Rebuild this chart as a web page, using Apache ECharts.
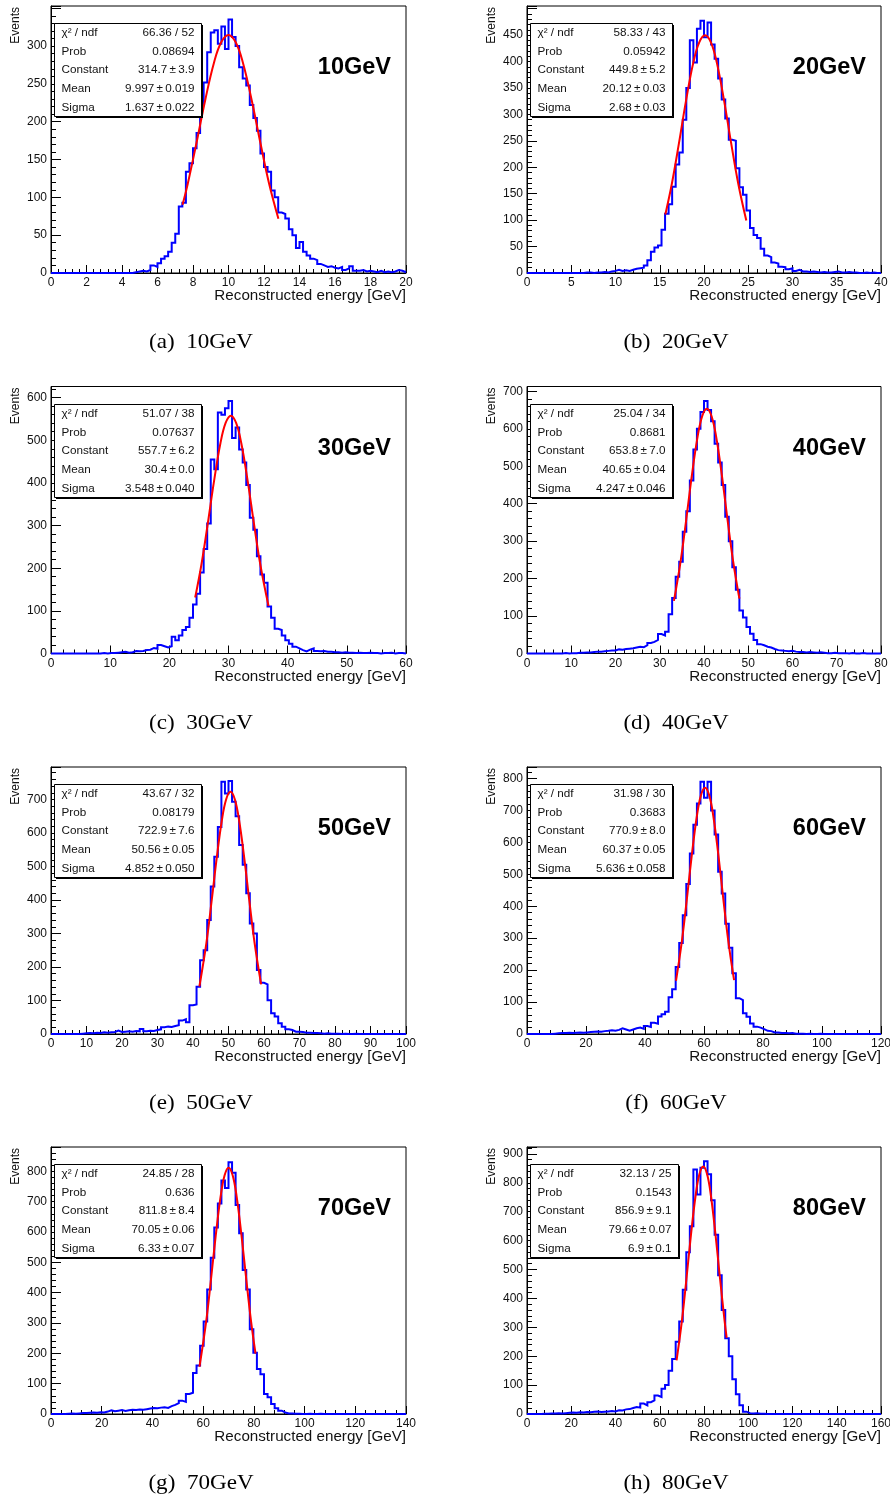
<!DOCTYPE html>
<html><head><meta charset="utf-8">
<script src="https://cdn.jsdelivr.net/npm/echarts@6/dist/echarts.min.js"></script>
<style>html,body{margin:0;padding:0;background:#fff;}#c{width:890px;height:1502px;}</style>
</head><body><div id="c"></div>
<script>
// ---------------- data ----------------
const panelLabels = ['10GeV','20GeV','30GeV','40GeV','50GeV','60GeV','70GeV','80GeV'];
const captions = ['(a)  10GeV','(b)  20GeV','(c)  30GeV','(d)  40GeV','(e)  50GeV','(f)  60GeV','(g)  70GeV','(h)  80GeV'];
const xMax = [20,40,60,80,100,120,140,160];
const xStep = [2,5,10,10,10,20,20,20];
const yMax = [353,505,626,713,797,836,880,924];
const yStep = [50,50,100,100,100,100,100,100];
const yTickLabels = [
  [0,50,100,150,200,250,300],
  [0,50,100,150,200,250,300,350,400,450],
  [0,100,200,300,400,500,600],
  [0,100,200,300,400,500,600,700],
  [0,100,200,300,400,500,600,700],
  [0,100,200,300,400,500,600,700,800],
  [0,100,200,300,400,500,600,700,800],
  [0,100,200,300,400,500,600,700,800,900]
];
const xTitle = 'Reconstructed energy [GeV]';
const yTitle = 'Events';

// histogram bin contents (100 equal bins from 0 to xMax)
const counts10 = [0,0,0,0,0,0,0,0,0,0, 0,0,0,0,0,0,0,0,0,0, 0,0,0,1,2,3,2,4,10,8,
  13,19,22,28,40,52,88,93,134,145, 165,185,222,252,292,318,321,303,326,296,
  335,312,300,272,257,248,222,205,188,158, 140,134,109,100,80,78,72,58,50,33,
  41,28,23,19,17,12,10,8,9,7, 6,8,4,6,9,3,3,4,2,3, 2,1,3,1,2,1,2,4,3,1];
const counts20 = [0,0,0,0,0,0,0,0,0,0, 0,0,0,0,0,0,1,1,0,1, 1,2,1,3,4,6,4,5,4,6,
  8,9,10,14,24,40,48,52,82,112, 130,163,205,228,290,350,440,398,462,477,
  446,474,432,405,368,328,292,252,250,198, 162,148,118,85,72,66,46,33,30,20,
  18,12,11,7,9,4,6,3,3,2, 3,2,1,2,1,1,2,3,1,1, 2,1,1,0,0,1,0,1,0,0];
const counts30 = [0,0,0,0,0,0,0,0,0,0, 0,0,0,0,1,0,1,1,2,3, 4,2,3,6,5,6,8,9,13,11,
  20,17,14,17,39,31,42,55,62,84, 115,140,190,245,305,455,432,565,560,575,
  592,505,530,478,448,395,318,290,228,185, 166,110,84,58,55,42,31,23,16,12,
  8,5,9,12,6,5,6,4,4,3, 3,2,3,2,2,1,2,1,1,2, 1,1,0,1,1,2,0,1,1,0];
const counts40 = [0,0,0,0,0,0,0,0,0,0, 1,0,1,1,2,2,3,3,4,5, 5,6,7,8,8,11,10,12,13,14,
  16,18,17,22,28,31,36,52,48,58, 105,148,205,245,325,380,462,545,600,645,
  674,650,620,560,510,450,365,300,230,170, 115,96,71,53,36,25,22,18,16,12,
  9,8,7,6,7,5,4,4,3,4, 3,2,3,2,1,1,2,1,1,1, 0,1,0,0,1,0,0,0,0,0];
const counts50 = [0,0,0,0,0,0,0,0,1,2, 3,2,4,3,5,4,5,6,10,6, 7,8,7,9,8,15,8,10,9,12,
  14,20,22,21,24,26,40,44,35,86, 88,141,220,250,340,440,529,618,753,718,
  755,693,650,564,505,420,330,300,191,153, 148,101,62,52,32,22,14,12,7,7,
  6,4,4,3,3,2,1,2,1,1, 1,0,1,0,0,1,0,0,0,0, 0,0,0,0,0,0,0,0,0,0];
const counts60 = [0,0,0,0,0,0,0,1,2,3, 3,4,3,4,5,4,5,6,7,8, 7,9,10,12,10,13,18,14,10,14,
  18,20,16,25,22,35,32,55,62,70, 115,140,210,285,372,470,565,655,722,790,
  740,790,700,625,508,440,345,270,190,112, 106,65,54,33,23,20,15,10,9,5,
  5,3,3,2,3,1,1,1,0,1, 0,0,1,0,0,0,0,0,0,0, 0,0,0,0,0,0,0,0,0,0];
const counts70 = [0,0,0,0,1,2,1,2,3,3, 4,5,4,6,5,8,12,9,11,13, 10,12,14,13,15,14,16,18,20,19,
  21,22,20,26,30,36,44,40,66,70, 135,160,225,305,410,515,615,694,770,745,
  830,795,689,596,475,410,279,202,148,131, 66,55,33,19,11,5,2,2,1,1,
  0,0,1,0,0,1,0,0,0,0, 0,0,0,0,0,0,0,0,0,0, 0,0,0,0,0,0,0,0,0,0];
const counts80 = [0,0,0,0,1,1,2,2,3,2, 3,4,5,4,6,5,7,6,8,9, 7,8,9,10,9,13,12,16,17,21,
  24,22,36,30,41,47,64,59,87,100, 150,190,250,320,430,560,650,846,760,852,
  875,830,740,620,480,360,262,200,120,68, 30,8,3,2,3,1,1,0,0,0,
  0,0,0,0,0,0,0,0,0,0, 0,0,0,0,0,0,0,0,0,0, 0,0,0,0,0,0,0,0,0,0];
const allCounts = [counts10,counts20,counts30,counts40,counts50,counts60,counts70,counts80];

// red fit curves [x, y]
const fit10 = [[7.411,90.3],[7.705,118.1],[8.196,171.9],[8.687,228.5],[9.178,277.7],[9.588,305.0],[9.997,314.7],[10.406,305.0],[10.816,277.7],[11.307,228.5],[11.798,171.9],[12.289,118.1],[12.813,71.7]];
const fit20 = [[15.631,110.6],[16.368,168.8],[17.172,245.6],[17.976,326.6],[18.78,396.9],[19.45,435.9],[20.12,449.8],[20.79,435.9],[21.46,396.9],[22.264,326.6],[23.068,245.6],[23.872,168.8],[24.781,99.2]];
const fit30 = [[24.368,131.4],[25.433,209.3],[26.497,304.6],[27.562,404.9],[28.626,492.2],[29.513,540.5],[30.4,557.7],[31.287,540.5],[32.174,492.2],[33.238,404.9],[34.303,304.6],[35.367,209.3],[36.769,111.4]];
const fit40 = [[33.201,140.4],[34.704,245.4],[35.978,357.0],[37.252,474.7],[38.527,577.0],[39.588,633.7],[40.65,653.8],[41.712,633.7],[42.774,577.0],[44.048,474.7],[45.322,357.0],[46.596,245.4],[47.997,146.4]];
const fit50 = [[41.802,141.8],[43.767,271.3],[45.223,394.8],[46.678,524.9],[48.134,638.0],[49.347,700.6],[50.56,722.9],[51.773,700.6],[52.986,638.0],[54.442,524.9],[55.897,394.8],[57.353,271.3],[59.197,148.3]];
const fit60 = [[50.507,166.7],[52.48,289.3],[54.17,421.0],[55.861,559.8],[57.552,680.3],[58.961,747.2],[60.37,770.9],[61.779,747.2],[63.188,680.3],[64.879,559.8],[66.57,421.0],[68.26,289.3],[70.199,168.5]];
const fit70 = [[58.548,155.8],[61.188,304.7],[63.087,443.3],[64.986,589.4],[66.885,716.4],[68.468,786.8],[70.05,811.8],[71.633,786.8],[73.215,716.4],[75.114,589.4],[77.013,443.3],[78.912,304.7],[80.659,199.3]];
const fit80 = [[67.599,185.9],[70.0,321.6],[72.07,468.0],[74.14,622.2],[76.21,756.2],[77.935,830.5],[79.66,856.9],[81.385,830.5],[83.11,756.2],[85.18,622.2],[87.25,468.0],[89.32,321.6],[90.258,263.4]];
const allFits = [fit10,fit20,fit30,fit40,fit50,fit60,fit70,fit80];

// statistics box contents
const statNames = ['\u03c7\u00b2 / ndf','Prob','Constant','Mean','Sigma'];
const PM = '\u2009\u00b1\u2009';
const stats = [
  ['66.36 / 52','0.08694','314.7'+PM+'3.9','9.997'+PM+'0.019','1.637'+PM+'0.022'],
  ['58.33 / 43','0.05942','449.8'+PM+'5.2','20.12'+PM+'0.03','2.68'+PM+'0.03'],
  ['51.07 / 38','0.07637','557.7'+PM+'6.2','30.4'+PM+'0.0','3.548'+PM+'0.040'],
  ['25.04 / 34','0.8681','653.8'+PM+'7.0','40.65'+PM+'0.04','4.247'+PM+'0.046'],
  ['43.67 / 32','0.08179','722.9'+PM+'7.6','50.56'+PM+'0.05','4.852'+PM+'0.050'],
  ['31.98 / 30','0.3683','770.9'+PM+'8.0','60.37'+PM+'0.05','5.636'+PM+'0.058'],
  ['24.85 / 28','0.636','811.8'+PM+'8.4','70.05'+PM+'0.06','6.33'+PM+'0.07'],
  ['32.13 / 25','0.1543','856.9'+PM+'9.1','79.66'+PM+'0.07','6.9'+PM+'0.1']
];

// ---------------- layout ----------------
const colLeft = [51, 527];
const colWidth = [355, 354];
const rowTop = [6, 386.5, 767, 1147];
const gridH = 267;
const boxW = [147,142,147,142,147,142,147,148];
const SANS = 'Liberation Sans, Arial, Helvetica, sans-serif';
const SERIF = 'Liberation Serif, Times New Roman, serif';

const grids = [], xAxes = [], yAxes = [], series = [], elements = [];
for (let k = 0; k < 8; k++) {
  const col = k % 2, row = Math.floor(k / 2);
  const gl = colLeft[col], gt = rowTop[row], gw = colWidth[col];
  const gr = gl + gw, gb = gt + gridH;
  grids.push({left: gl, top: gt, width: gw, height: gridH, show: true,
    borderColor: '#000', borderWidth: 1, backgroundColor: 'transparent',
    containLabel: false, outerBoundsMode: 'none'});
  xAxes.push({gridIndex: k, type: 'value', min: 0, max: xMax[k], interval: xStep[k],
    axisLine: {show: true, onZero: false, lineStyle: {color: '#000', width: 1}},
    axisTick: {show: true, inside: true, length: 8, lineStyle: {color: '#000', width: 1}},
    minorTick: {show: true, splitNumber: 5, length: 4, lineStyle: {color: '#000', width: 1}},
    axisLabel: {show: true, margin: 4, fontSize: 12, fontFamily: SANS, color: '#111',
      showMinLabel: true, showMaxLabel: true, hideOverlap: false},
    splitLine: {show: false}, minorSplitLine: {show: false}});
  const labs = yTickLabels[k];
  yAxes.push({gridIndex: k, type: 'value', min: 0, max: yMax[k], interval: yStep[k],
    axisLine: {show: true, onZero: false, lineStyle: {color: '#000', width: 1}},
    axisTick: {show: true, inside: true, length: 10, lineStyle: {color: '#000', width: 1}},
    minorTick: {show: true, splitNumber: 5, length: 5, lineStyle: {color: '#000', width: 1}},
    axisLabel: {show: true, margin: 4, fontSize: 12, fontFamily: SANS, color: '#111',
      showMinLabel: true, showMaxLabel: true, hideOverlap: false,
      formatter: v => (labs.indexOf(Math.round(v)) >= 0 && Math.abs(v - Math.round(v)) < 1e-6) ? String(Math.round(v)) : ''},
    splitLine: {show: false}, minorSplitLine: {show: false}});

  // histogram outline from the bin contents
  const c = allCounts[k], w = xMax[k] / c.length, hist = [];
  for (let i = 0; i < c.length; i++) { hist.push([i * w, c[i]]); hist.push([(i + 1) * w, c[i]]); }
  series.push({type: 'line', xAxisIndex: k, yAxisIndex: k, data: hist, symbol: 'none', showSymbol: false,
    lineStyle: {color: '#0000ff', width: 2, join: 'miter'}, clip: false, animation: false, z: 3, silent: true});
  series.push({type: 'line', xAxisIndex: k, yAxisIndex: k, data: allFits[k], symbol: 'none', showSymbol: false,
    smooth: 0.4, lineStyle: {color: '#ff0000', width: 2}, clip: false, animation: false, z: 4, silent: true});

  // stats box
  const bl = gl + 3.5, bt = Math.round(gt + 17) + 0.5, bw = boxW[k], bh = 93;
  elements.push({type: 'rect', z: 100, shape: {x: bl + 1.5, y: bt + 1.5, width: bw, height: bh}, style: {fill: '#000'}});
  elements.push({type: 'rect', z: 101, shape: {x: bl, y: bt, width: bw, height: bh}, style: {fill: '#fff', stroke: '#000', lineWidth: 1}});
  for (let r = 0; r < 5; r++) {
    const ty = bt + 9.5 + r * 18.6;
    elements.push({type: 'text', z: 102, x: bl + 7, y: ty, style: {text: statNames[r], fontSize: 11.7, fontFamily: SANS, fill: '#111', align: 'left', verticalAlign: 'middle', textAlign: 'left', textVerticalAlign: 'middle'}});
    elements.push({type: 'text', z: 102, x: bl + bw - 7, y: ty, style: {text: stats[k][r], fontSize: 11.7, fontFamily: SANS, fill: '#111', align: 'right', verticalAlign: 'middle', textAlign: 'right', textVerticalAlign: 'middle'}});
  }
  // big energy label
  elements.push({type: 'text', z: 102, x: gr - 15, y: gt + 62, style: {text: panelLabels[k], fontSize: 23.5, fontWeight: 'bold', fontFamily: SANS, fill: '#000', align: 'right', verticalAlign: 'middle', textAlign: 'right', textVerticalAlign: 'middle'}});
  // axis titles
  elements.push({type: 'text', z: 102, x: gr, y: gb + 23, style: {text: xTitle, fontSize: 15.2, fontFamily: SANS, fill: '#111', align: 'right', verticalAlign: 'middle', textAlign: 'right', textVerticalAlign: 'middle'}});
  elements.push({type: 'text', z: 102, x: gl - 35, y: gt + 1, rotation: Math.PI / 2, style: {text: yTitle, fontSize: 12, fontFamily: SANS, fill: '#111', align: 'right', verticalAlign: 'middle', textAlign: 'right', textVerticalAlign: 'middle'}});
  // caption
  elements.push({type: 'text', z: 102, x: (col === 0 ? 201 : 676), y: gt + 336.5, scaleX: 1.05, originX: 0, originY: 0, style: {text: captions[k], fontSize: 22, fontFamily: SERIF, fill: '#000', align: 'center', verticalAlign: 'middle', textAlign: 'center', textVerticalAlign: 'middle'}});
}

const chart = echarts.init(document.getElementById('c'), null, {renderer: 'canvas', width: 890, height: 1502});
chart.setOption({
  animation: false,
  backgroundColor: '#fff',
  grid: grids, xAxis: xAxes, yAxis: yAxes, series: series,
  graphic: {elements: elements}
});
</script>
</body></html>
